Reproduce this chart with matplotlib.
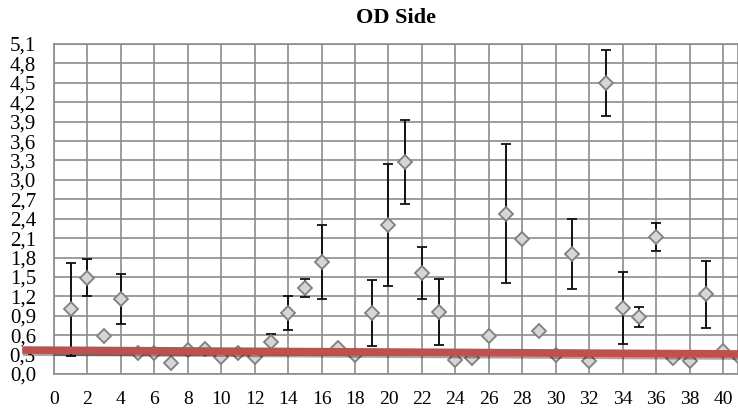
import numpy as np
import matplotlib
matplotlib.use('Agg')
import matplotlib.pyplot as plt
import matplotlib.patheffects as pe
from matplotlib.ticker import FuncFormatter

# 數據
samples = list(range(1, 42))
means = [1.00, 1.49, 0.59, 1.16, 0.33, 0.33, 0.17, 0.37, 0.38, 0.27,
         0.33, 0.26, 0.50, 0.94, 1.33, 1.73, 0.40, 0.29, 0.94, 2.30,
         3.27, 1.56, 0.96, 0.22, 0.24, 0.58, 2.48, 2.08, 0.66, 0.29,
         1.85, 0.20, 4.49, 1.02, 0.88, 2.12, 0.24, 0.20, 1.23, 0.35, 0.25]
nan = np.nan
errors = [0.72, 0.29, nan, 0.39, nan, nan, nan, nan, nan, nan,
          nan, nan, 0.12, 0.26, 0.14, 0.57, nan, nan, 0.51, 0.94,
          0.65, 0.40, 0.51, nan, nan, nan, 1.08, nan, nan, nan,
          0.54, nan, 0.51, 0.55, 0.16, 0.22, nan, nan, 0.52, nan, nan]
trend_x = [-1.9, 40.9]
trend_y = [0.37, 0.31]

plt.rcParams['font.family'] = ['Liberation Serif', 'DejaVu Serif']

fig = plt.figure(figsize=(7.38, 4.12), dpi=100)
ax = fig.add_axes([54 / 738, 38 / 412, 684 / 738, 330 / 412])

ax.errorbar(samples, means, yerr=errors, fmt='D', color='#111111',
            ecolor='#111111', elinewidth=1.4, capsize=3.5, capthick=1.4,
            markersize=7, markerfacecolor='#d6d6d6', markeredgecolor='#7f7f7f',
            markeredgewidth=1.3, zorder=3)

# 紅色趨勢線（超出座標軸）
ax.plot(trend_x, trend_y, color='#c0504d', linewidth=5.5, solid_capstyle='butt',
        clip_on=False, zorder=4,
        path_effects=[pe.SimpleLineShadow(offset=(0.5, -1.5), alpha=0.35),
                      pe.Normal()])

ax.set_xlim(0, 40.9)
ax.set_ylim(0, 5.1)
ax.set_xticks(np.arange(0, 41, 2))
ax.set_yticks(np.arange(0, 5.11, 0.3))
ax.yaxis.set_major_formatter(FuncFormatter(lambda v, p: f'{v:.1f}'.replace('.', ',')))
ax.tick_params(axis='both', length=0)
ax.tick_params(axis='x', pad=12, labelsize=14)
ax.tick_params(axis='y', pad=13, labelsize=15)
ax.grid(True, color='#8c8c8c', linewidth=1.2)
ax.set_axisbelow(True)
for s in ax.spines.values():
    s.set_color('#8c8c8c')
    s.set_linewidth(1.2)

ax.set_title('OD Side', fontsize=16, fontweight='bold', pad=15)

plt.savefig('out.png', dpi=100)
